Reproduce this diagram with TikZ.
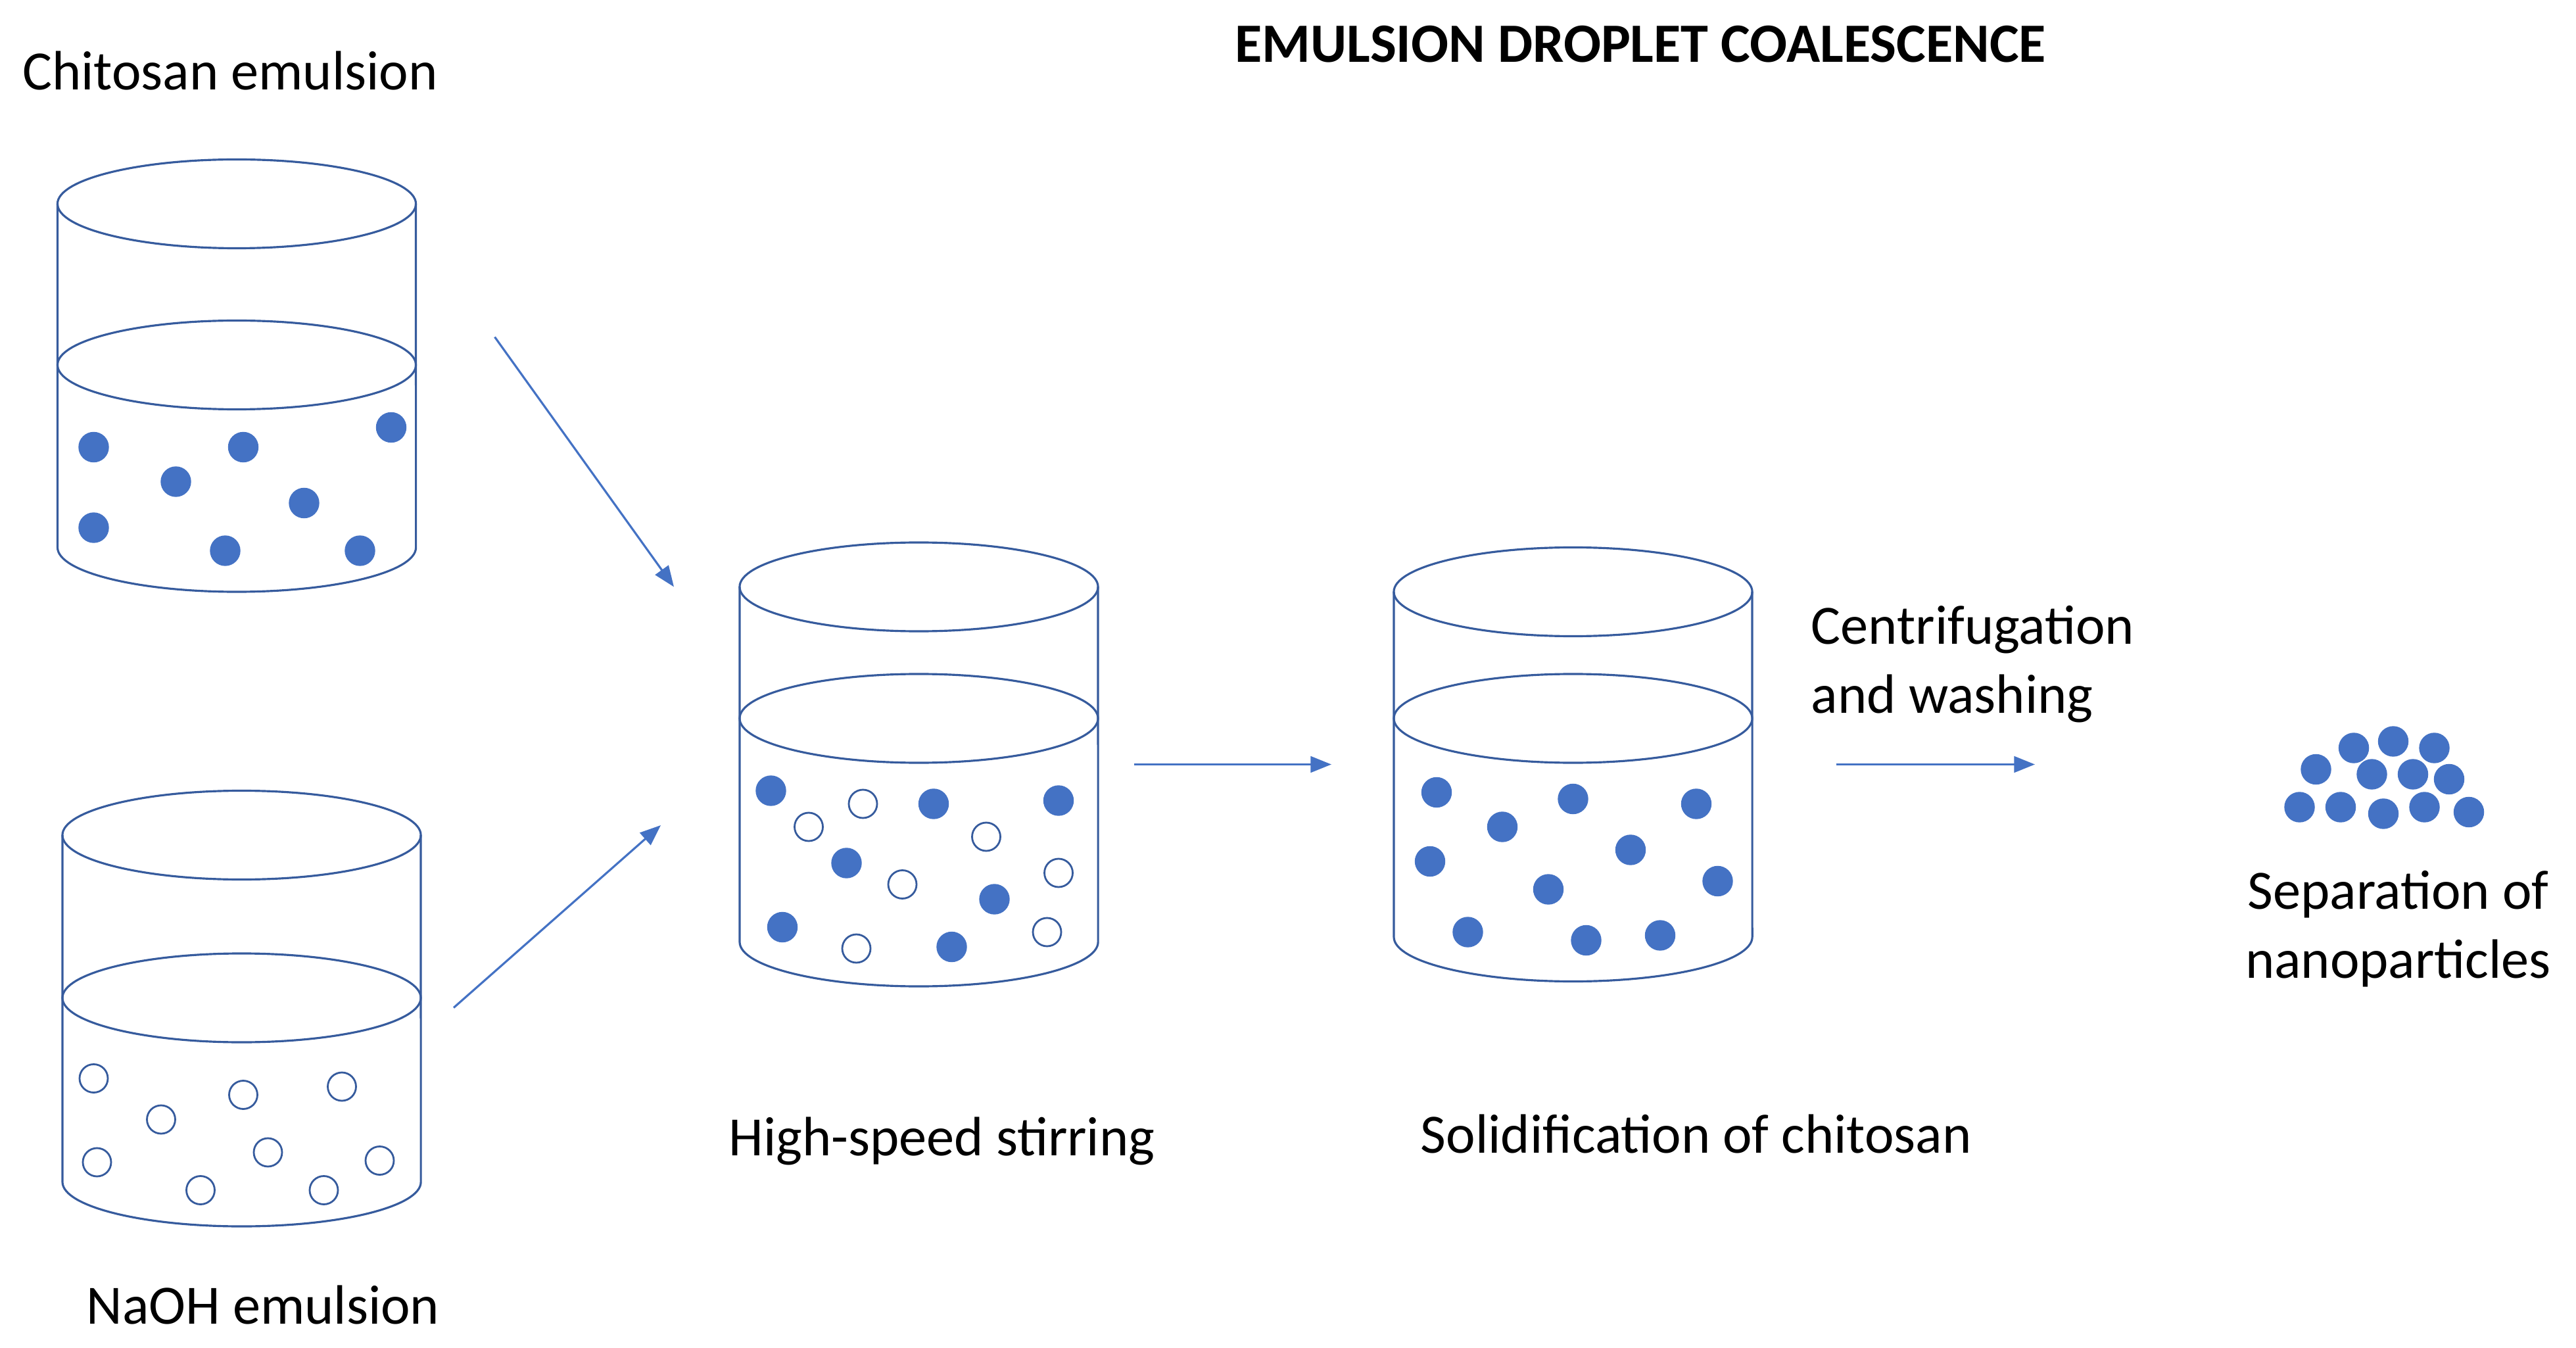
\documentclass[tikz,border=0pt]{standalone}
\usepackage{fontspec}
\setmainfont{Carlito}
\usetikzlibrary{arrows.meta}
\definecolor{drop}{HTML}{4472C4}
\tikzset{
  wall/.style={draw=drop!80!black,line width=0.9pt},
  full/.style={fill=drop,draw=drop},
  empty/.style={draw=drop!80!black,line width=0.8pt,fill=white},
  flow/.style={draw=drop,line width=0.9pt,-{Triangle[length=9pt,width=7pt]}},
  lbl/.style={font=\fontsize{24}{30}\selectfont,align=left}
}
% beaker: left x, top y, liquid y, bottom y
\newcommand\beaker[4]{%
  \draw[wall] (#1+109,#2) ellipse [x radius=2.725cm,y radius=0.675cm];
  \draw[wall] (#1+109,#3) ellipse [x radius=2.725cm,y radius=0.675cm];
  \draw[wall] (#1,#2) -- (#1,#4) arc [start angle=180,end angle=360,x radius=2.725cm,y radius=0.675cm] -- (#1+218,#2);
}
\begin{document}
\begin{tikzpicture}[x=0.025cm,y=-0.025cm]
  \useasboundingbox (0,0) rectangle (1567.2,820);
  \beaker{35}{124}{222}{333}
  \beaker{38}{508}{607}{719}
  \beaker{450}{357}{437}{573}
  \beaker{848}{360}{437}{570}
  % droplets
  \foreach \p in {(57,272),(107,293),(148,272),(238,260),(185,306),(57,321),(137,335),(219,335)}
    \fill[full] \p circle (0.225cm);
  \foreach \p in {(57,656),(98,681),(148,666),(208,661),(163,701),(59,707),(122,724),(197,724),(231,706)}
    \draw[empty] \p circle (0.215cm);
  \foreach \p in {(469,481),(568,489),(644,487),(515,525),(605,547),(476,564),(579,576)}
    \fill[full] \p circle (0.225cm);
  \foreach \p in {(492,503),(525,489),(600,509),(549,538),(644,531),(521,577),(637,567)}
    \draw[empty] \p circle (0.215cm);
  \foreach \p in {(874,482),(914,503),(957,486),(1032,489),(870,524),(992,517),(942,541),(1045,536),(893,567),(965,572),(1010,569)}
    \fill[full] \p circle (0.225cm);
  \foreach \p in {(1432,455),(1456,451),(1481,455),(1409,468),(1443,471),(1468,471),(1490,474),(1399,491),(1424,491),(1450,495),(1475,491),(1502,494)}
    \fill[full] \p circle (0.225cm);
  % arrows
  \coordinate (a1) at (301,205); \coordinate (b1) at (410,357);
  \coordinate (a2) at (276,613); \coordinate (b2) at (402,502);
  \coordinate (a3) at (690,465); \coordinate (b3) at (810,465);
  \coordinate (a4) at (1117,465); \coordinate (b4) at (1238,465);
  \draw[flow] (a1) -- (b1);
  \draw[flow] (a2) -- (b2);
  \draw[flow] (a3) -- (b3);
  \draw[flow] (a4) -- (b4);
  % labels
  \node[lbl] (chi) at (140,43) {Chitosan emulsion};
  \node[lbl,font=\fontsize{24}{30}\selectfont\bfseries] (title) at (998,27) {EMULSION DROPLET COALESCENCE};
  \node[lbl] (stir) at (573,694) {High-speed stirring};
  \node[lbl] (soli) at (1032,690) {Solidification of chitosan};
  \node[lbl,anchor=west] (cent) at (1097,404) {Centrifugation\\and washing};
  \node[lbl,align=center] (sep) at (1459,565) {Separation of\\nanoparticles};
  \node[lbl] (naoh) at (160,794) {NaOH emulsion};
\end{tikzpicture}
\end{document}
